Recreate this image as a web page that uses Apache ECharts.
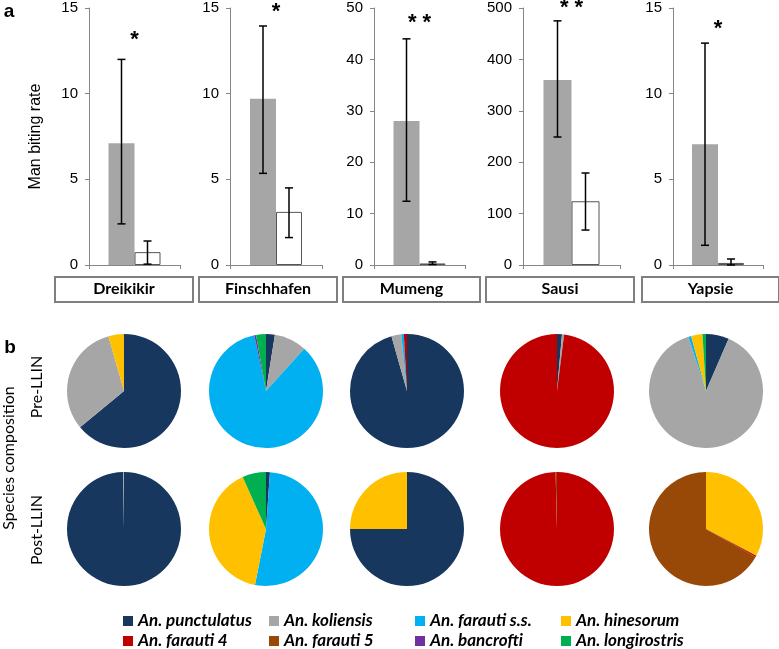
<!DOCTYPE html>
<html><head><meta charset="utf-8">
<script src="https://cdn.jsdelivr.net/npm/echarts@6/dist/echarts.min.js"></script>
<style>html,body{margin:0;padding:0;background:#fff}#c{width:779px;height:649px}</style>
</head><body><div id="c"></div>
<script>
// ---------- DATA ----------
var sites = ['Dreikikir', 'Finschhafen', 'Mumeng', 'Sausi', 'Yapsie'];
var preMBR = [7.1, 9.7, 28.0, 360, 7.05];
var postMBR = [0.75, 3.1, 0.3, 124, 0.12];
var preLow = [2.4, 5.35, 12.4, 249, 1.15];
var preHigh = [12.0, 13.95, 44.0, 475, 12.95];
var postLow = [0.05, 1.6, 0.1, 68, 0.0];
var postHigh = [1.4, 4.5, 0.6, 179, 0.35];
var yMax = [15, 15, 50, 500, 15];
var yStep = [5, 5, 10, 100, 5];
var signif = ['*', '*', '* *', '* *', '*'];
var signifAt = [13.5, 15.1, 48.3, 512, 14.1];

var species = ['An. punctulatus', 'An. koliensis', 'An. farauti s.s.', 'An. hinesorum',
               'An. farauti 4', 'An. farauti 5', 'An. bancrofti', 'An. longirostris'];
var preComp = [
  [64.0, 31.6, 0, 4.4, 0, 0, 0, 0],
  [2.5, 9.2, 85.0, 0, 0, 0, 0.5, 2.8],
  [95.6, 2.8, 0.7, 0, 0.9, 0, 0, 0],
  [1.4, 0.6, 0, 0, 98.0, 0, 0, 0],
  [6.5, 88.5, 0.8, 3.2, 0, 0, 0, 1.0]
];
var postComp = [
  [99.8, 0.2, 0, 0, 0, 0, 0, 0],
  [1.1, 0, 52.0, 40.2, 0, 0, 0, 6.7],
  [75.0, 0, 0, 25.0, 0, 0, 0, 0],
  [0, 0, 0, 0, 99.6, 0.4, 0, 0],
  [0, 0, 0, 32.8, 0.4, 66.8, 0, 0]
];

// ---------- STYLE / LAYOUT ----------
var speciesColors = ['#17375E', '#A6A6A6', '#00B0F0', '#FFC000', '#C00000', '#984807', '#7030A0', '#00B050'];
var gridLeft = [89, 230, 374, 523, 673];
var gridWidth = [91, 92, 91, 97, 90];
var boxLeft = [54, 198, 342, 485, 641];
var boxWidth = [138, 138, 137, 148, 137];
var pieX = [124, 266, 407, 557, 706];
var pieRowY = [391, 529];
var axisGrey = '#868686';
var labelFont = 'Lato, "Open Sans", sans-serif';
var numFont = '"Liberation Sans", Arial, sans-serif';

var grids = [], xAxes = [], yAxes = [], series = [], graphics = [];

sites.forEach(function (s, i) {
  grids.push({left: gridLeft[i], width: gridWidth[i], top: 8, height: 257});
  xAxes.push({
    type: 'category', gridIndex: i, data: [s],
    axisLine: {lineStyle: {color: axisGrey, width: 1}},
    axisTick: {show: true, length: 4, lineStyle: {color: axisGrey}},
    axisLabel: {show: false}
  });
  yAxes.push({
    type: 'value', gridIndex: i, min: 0, max: yMax[i], interval: yStep[i],
    axisLine: {show: true, lineStyle: {color: axisGrey, width: 1}},
    axisTick: {show: true, length: 4, lineStyle: {color: axisGrey}},
    splitLine: {show: false},
    axisLabel: {fontSize: 15, fontFamily: numFont, color: '#000', margin: 11},
    name: i === 0 ? 'Man biting rate' : '',
    nameLocation: 'middle', nameGap: 45,
    nameTextStyle: {fontSize: 16, fontFamily: numFont, color: '#000'}
  });
  var bw = i === 3 ? 28 : 26;
  series.push({
    type: 'bar', xAxisIndex: i, yAxisIndex: i, data: [preMBR[i]], barWidth: bw, barGap: '0%',
    itemStyle: {color: '#A6A6A6'}, silent: true
  });
  series.push({
    type: 'bar', xAxisIndex: i, yAxisIndex: i, data: [postMBR[i]], barWidth: bw, barGap: '0%',
    itemStyle: {color: '#fff', borderColor: '#555', borderWidth: 1}, silent: true
  });
  series.push({
    type: 'custom', xAxisIndex: i, yAxisIndex: i, silent: true, clip: false, z: 5,
    data: [[0, preLow[i], preHigh[i], -1], [0, postLow[i], postHigh[i], 1]],
    renderItem: (function (idx, bwid) {
      return function (params, api) {
        var side = api.value(3);
        var lo = api.coord([0, api.value(1)]);
        var hi = api.coord([0, api.value(2)]);
        var x = lo[0] + side * bwid / 2;
        var cap = 4;
        var st = {stroke: '#000', lineWidth: 1.5};
        var children = [
          {type: 'line', shape: {x1: x, y1: lo[1], x2: x, y2: hi[1]}, style: st},
          {type: 'line', shape: {x1: x - cap, y1: lo[1], x2: x + cap, y2: lo[1]}, style: st},
          {type: 'line', shape: {x1: x - cap, y1: hi[1], x2: x + cap, y2: hi[1]}, style: st}
        ];
        if (side < 0) {
          var sp = api.coord([0, signifAt[idx]]);
          children.push({type: 'text', style: {x: sp[0], y: sp[1] + 6, text: signif[idx],
            fontSize: 22, fontWeight: 'bold', fontFamily: numFont, fill: '#000',
            align: 'center', verticalAlign: 'middle'}});
        }
        return {type: 'group', children: children};
      };
    })(i, bw)
  });
  // category box
  graphics.push({
    type: 'rect', left: boxLeft[i], top: 276,
    shape: {width: boxWidth[i], height: 25},
    style: {fill: '#fff', stroke: '#7f7f7f', lineWidth: 2}
  });
  graphics.push({
    type: 'text', x: boxLeft[i] + boxWidth[i] / 2 + 1, y: 289,
    style: {text: s, fontSize: 16, fontWeight: 'bold', fontFamily: labelFont, fill: '#000',
      align: 'center', verticalAlign: 'middle'}
  });
  // pies
  [preComp, postComp].forEach(function (comp, r) {
    series.push({
      type: 'pie', center: [pieX[i], pieRowY[r]], radius: 57, startAngle: 90, clockwise: true,
      silent: true, label: {show: false}, labelLine: {show: false},
      itemStyle: {borderWidth: 0},
      emphasis: {disabled: true},
      data: comp[i].map(function (v, k) {
        return {name: species[k], value: v, itemStyle: {color: speciesColors[k]}};
      })
    });
  });
});

// panel letters and row labels
graphics.push({type: 'text', x: 9, y: 12, style: {text: 'a', fontSize: 19, fontWeight: 'bold',
  fontFamily: numFont, fill: '#000', align: 'center', verticalAlign: 'middle'}});
graphics.push({type: 'text', x: 10, y: 348, style: {text: 'b', fontSize: 19, fontWeight: 'bold',
  fontFamily: numFont, fill: '#000', align: 'center', verticalAlign: 'middle'}});
graphics.push({type: 'text', x: 9, y: 458, rotation: Math.PI / 2, style: {text: 'Species composition',
  fontSize: 16, fontFamily: labelFont, fill: '#000', align: 'center', verticalAlign: 'middle'}});
graphics.push({type: 'text', x: 37, y: 387, rotation: Math.PI / 2, style: {text: 'Pre-LLIN',
  fontSize: 16, fontFamily: labelFont, fill: '#000', align: 'center', verticalAlign: 'middle'}});
graphics.push({type: 'text', x: 37, y: 530, rotation: Math.PI / 2, style: {text: 'Post-LLIN',
  fontSize: 16, fontFamily: labelFont, fill: '#000', align: 'center', verticalAlign: 'middle'}});

var legendBase = {
  orient: 'horizontal', left: 123, icon: 'rect', itemWidth: 10, itemHeight: 10, itemGap: 10,
  padding: 0, selectedMode: false,
  textStyle: {fontSize: 17, fontStyle: 'italic', fontWeight: 'bold', fontFamily: labelFont,
    color: '#000', width: 121, lineHeight: 18, padding: [0, 0, 0, 0]}
};
var legends = [
  Object.assign({}, legendBase, {top: 612, data: species.slice(0, 4)}),
  Object.assign({}, legendBase, {top: 632, data: species.slice(4, 8)})
];

var chart = echarts.init(document.getElementById('c'), null, {renderer: 'canvas'});
chart.setOption({
  animation: false,
  backgroundColor: '#fff',
  grid: grids, xAxis: xAxes, yAxis: yAxes,
  legend: legends,
  series: series,
  graphic: graphics
});
</script></body></html>
